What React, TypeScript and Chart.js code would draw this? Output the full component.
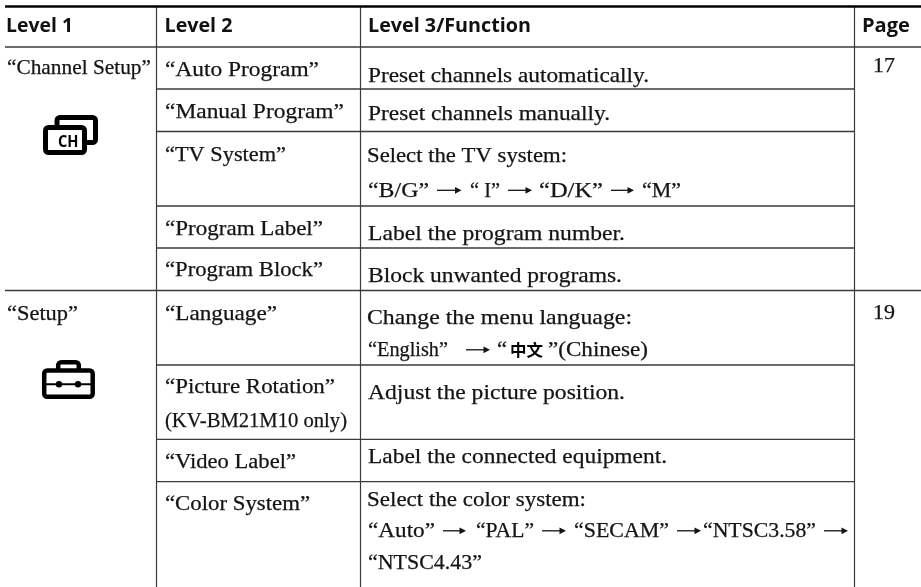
import React, { useEffect, useRef } from "react";
import { Chart, registerables } from "chart.js";

Chart.register(...registerables);

// ---- table contents ----
const headerLabels = ["Level 1", "Level 2", "Level 3/Function", "Page"];
const level1Labels = ["“Channel Setup”", "“Setup”"];
const level2Labels = [
  "“Auto Program”",
  "“Manual Program”",
  "“TV System”",
  "“Program Label”",
  "“Program Block”",
  "“Language”",
  "“Picture Rotation”",
  "(KV-BM21M10 only)",
  "“Video Label”",
  "“Color System”",
];
const level3Lines = [
  "Preset channels automatically.",
  "Preset channels manually.",
  "Select the TV system:",
  "Label the program number.",
  "Block unwanted programs.",
  "Change the menu language:",
  "Adjust the picture position.",
  "Label the connected equipment.",
  "Select the color system:",
  "“NTSC4.43”",
];
const optionFragments = [
  "“B/G”", "“ I”", "“D/K”", "“M”",
  "“English”", "“", "”(Chinese)",
  "“Auto”", "“PAL”", "“SECAM”", "“NTSC3.58”",
];
const chineseLabel = "中文";
const pageLabels = ["17", "19"];
const channelIconLabel = "CH";

// ---- table grid, in table units ----
const columnRules = [156.5, 360.5, 854.5];
const innerRowRules = [89, 131.5, 206, 248, 365, 439.3, 481.7];
const fullRowRules = [47, 290.5];

// ---- where each text sits: [left, right, baseline] ----
const headerSpots = [[6, 73, 32], [164.5, 232.5, 32], [368, 531, 31.5], [862, 910, 31.5]];
const level1Spots = [[7, 151, 74], [7, 78, 320]];
const level2Spots = [
  [165, 319, 75.5], [165, 344, 117.5], [165, 286, 160.5], [165, 323, 234.5], [165, 323, 276],
  [165, 277, 320], [165, 335, 392.7], [165, 347, 426.7], [165, 296, 467.7], [165, 310, 510],
];
const level3Spots = [
  [368, 649, 82], [368, 610, 120], [367, 567, 162], [368, 625, 240], [368, 622, 282],
  [367, 632, 324], [368, 625, 399], [368, 667, 463], [367, 586, 505.7], [368, 482, 569],
];
const fragmentSpots = [
  [368, 429, 196.7], [470, 500, 196.7], [539, 603, 196.7], [642, 681, 196.7],
  [368, 448, 356], [497, 507, 356], [548, 648, 356],
  [368, 435, 537], [476, 534, 537], [574, 669, 537], [703, 816, 537],
];
const chineseSpot = [510, 543, 356];
const pageSpots = [[873, 895, 71.7], [873, 895, 319]];
const arrowSpots = [
  [437, 461.5, 190.3], [508, 532, 190.3], [611, 634, 190.3],
  [466, 490, 349.8],
  [443, 466, 530.8], [542, 566, 530.8], [677, 701, 530.8], [824, 848, 530.8],
];

const SERIF = '"Liberation Serif"';
const SANS = '"Open Sans"';

const rule = (x0: number, y0: number, x1: number, y1: number, width: number, color: string) => ({
  data: [{ x: x0, y: y0 }, { x: x1, y: y1 }],
  showLine: true,
  borderColor: color,
  borderWidth: width,
  pointRadius: 0,
  parsing: false,
});

const tablePlugin = {
  id: "tableText",
  afterDatasetsDraw(chart: any) {
    const { ctx, scales } = chart;
    const X = (v: number) => scales.x.getPixelForValue(v);
    const Y = (v: number) => scales.y.getPixelForValue(v);

    const fit = (text: string, spot: number[], font: string, color = "#141414", thicken = 0) => {
      ctx.save();
      ctx.font = font;
      ctx.fillStyle = color;
      ctx.strokeStyle = color;
      ctx.textBaseline = "alphabetic";
      ctx.textAlign = "left";
      const natural = ctx.measureText(text).width;
      const sx = (X(spot[1]) - X(spot[0])) / natural;
      ctx.translate(X(spot[0]), Y(spot[2]));
      ctx.scale(sx, 1);
      ctx.fillText(text, 0, 0);
      if (thicken > 0) {
        ctx.lineWidth = thicken;
        ctx.strokeText(text, 0, 0);
      }
      ctx.restore();
    };

    const bodyFont = `21.5px ${SERIF}`;
    const headFont = `bold 19.5px ${SANS}`;
    headerLabels.forEach((t, i) => fit(t, headerSpots[i], headFont, "#111"));
    level1Labels.forEach((t, i) => fit(t, level1Spots[i], bodyFont, "#141414", 0.25));
    level2Labels.forEach((t, i) => fit(t, level2Spots[i], bodyFont, "#141414", 0.25));
    level3Lines.forEach((t, i) => fit(t, level3Spots[i], bodyFont, "#141414", 0.25));
    optionFragments.forEach((t, i) => fit(t, fragmentSpots[i], bodyFont, "#141414", 0.25));
    pageLabels.forEach((t, i) => fit(t, pageSpots[i], bodyFont, "#141414", 0.25));
    fit(chineseLabel, chineseSpot, 'bold 16px "Noto Sans CJK SC"', "#000");

    // arrows
    ctx.save();
    ctx.strokeStyle = "#141414";
    ctx.fillStyle = "#141414";
    arrowSpots.forEach(([a, b, y]) => {
      const x0 = X(a), x1 = X(b), py = Y(y);
      ctx.lineWidth = 1.3;
      ctx.beginPath();
      ctx.moveTo(x0, py);
      ctx.lineTo(x1 - 4, py);
      ctx.stroke();
      ctx.beginPath();
      ctx.moveTo(x1, py);
      ctx.lineTo(x1 - 6.5, py - 3.4);
      ctx.lineTo(x1 - 6.5, py + 3.4);
      ctx.closePath();
      ctx.fill();
    });
    ctx.restore();

    // channel icon
    const rr = (x0: number, y0: number, x1: number, y1: number, r: number, fill?: boolean) => {
      ctx.beginPath();
      ctx.roundRect(X(x0), Y(y0), X(x1) - X(x0), Y(y1) - Y(y0), r);
      if (fill) ctx.fill();
      else ctx.stroke();
    };
    ctx.save();
    ctx.strokeStyle = "#000";
    ctx.lineWidth = 5;
    rr(57, 117.5, 95.5, 142.5, 3);
    ctx.fillStyle = "#fff";
    rr(45.5, 127.5, 84.5, 152.5, 3, true);
    rr(45.5, 127.5, 84.5, 152.5, 3);
    ctx.restore();
    fit(channelIconLabel, [58, 78.5, 147], `bold 16px ${SANS}`, "#000");

    // toolbox icon
    ctx.save();
    ctx.strokeStyle = "#000";
    ctx.fillStyle = "#000";
    ctx.lineWidth = 4.5;
    rr(58.2, 362.2, 78.8, 373, 3);
    ctx.fillStyle = "#fff";
    rr(44.2, 370.5, 92.7, 396.7, 3, true);
    rr(44.2, 370.5, 92.7, 396.7, 3);
    ctx.fillStyle = "#000";
    ctx.lineWidth = 2;
    ctx.beginPath();
    ctx.moveTo(X(44), Y(384.3));
    ctx.lineTo(X(93), Y(384.3));
    ctx.stroke();
    [59, 78].forEach((cx) => {
      ctx.beginPath();
      ctx.arc(X(cx), Y(384.3), 3.2, 0, Math.PI * 2);
      ctx.fill();
    });
    ctx.restore();
  },
};

export default function App() {
  const ref = useRef<HTMLCanvasElement>(null);
  useEffect(() => {
    document.body.style.margin = "0";
    document.body.style.background = "#fff";
    const datasets = [
      rule(5, 6.5, 921, 6.5, 2.7, "#000"),
      ...fullRowRules.map((y) => rule(5, y, 921, y, 1.3, "#3a3a3a")),
      ...innerRowRules.map((y) => rule(156, y, 855, y, 1.3, "#3a3a3a")),
      ...columnRules.map((x) => rule(x, 7, x, 587, 1.2, "#3a3a3a")),
    ];
    const chart = new Chart(ref.current!, {
      type: "scatter",
      data: { datasets },
      options: {
        animation: false,
        responsive: false,
        devicePixelRatio: 1,
        layout: { padding: 0 },
        plugins: { legend: { display: false }, tooltip: { enabled: false }, title: { display: false } },
        scales: {
          x: { type: "linear", min: 0, max: 921, display: false },
          y: { type: "linear", min: 0, max: 587, reverse: true, display: false },
        },
      },
      plugins: [tablePlugin],
    } as any);
    return () => chart.destroy();
  }, []);
  return <canvas ref={ref} width={921} height={587} style={{ display: "block" }} />;
}
